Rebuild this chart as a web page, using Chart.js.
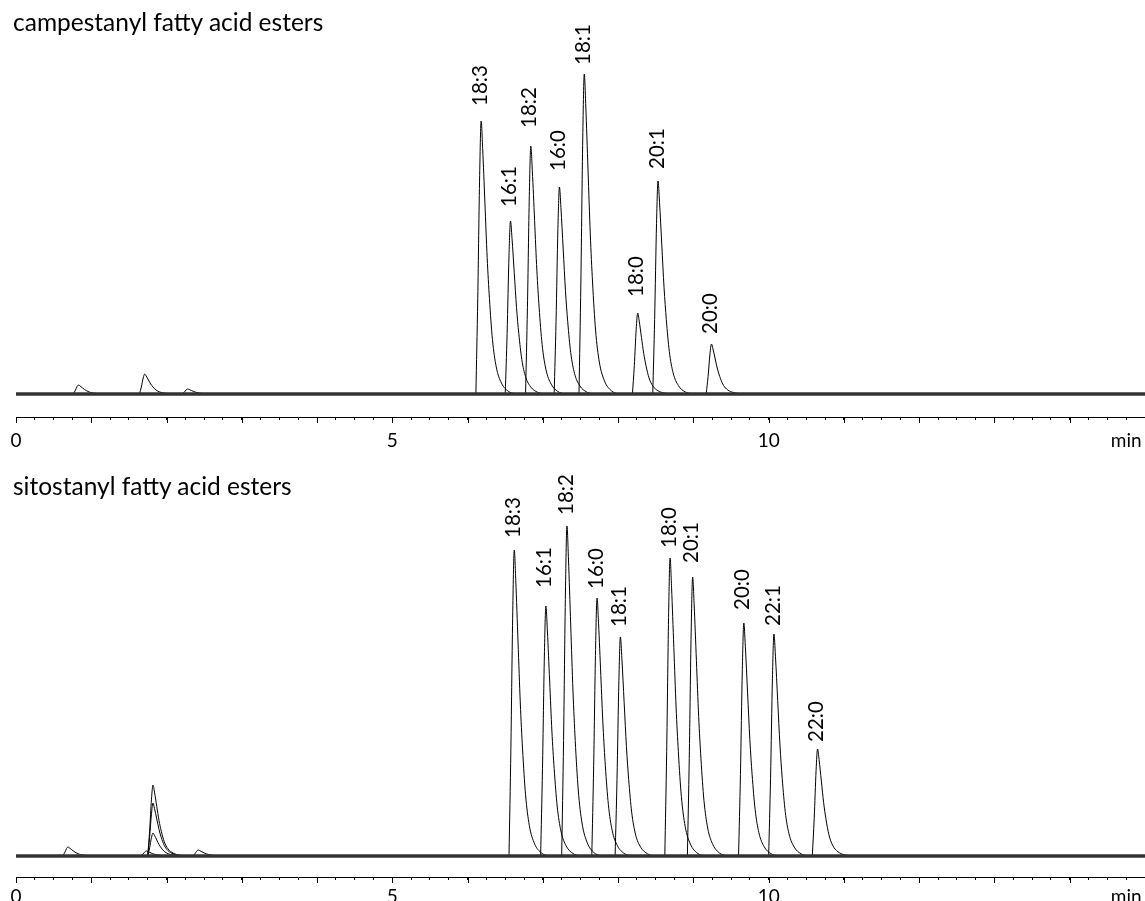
<!DOCTYPE html>
<html>
<head>
<meta charset="utf-8">
<title>Stanyl fatty acid esters</title>
<script src="https://cdn.jsdelivr.net/npm/chart.js@4.4.1/dist/chart.umd.min.js"></script>
<style>
  body { margin: 0; background: #fff; }
  #page { position: relative; width: 1145px; height: 901px; overflow: hidden; font-family: Lato, sans-serif; }
  .panel { position: absolute; left: 0; width: 1145px; }
  .panel-title { position: absolute; left: 13px; font-size: 24.5px; line-height: 24.5px; color: #000; white-space: nowrap; }
</style>
</head>
<body>
<div id="page">
  <div class="panel" style="top:0;height:450px"><canvas id="campChart"></canvas></div>
  <div class="panel" style="top:450px;height:451px"><canvas id="sitoChart"></canvas></div>
  <div class="panel-title" style="top:10px">campestanyl fatty acid esters</div>
  <div class="panel-title" style="top:474px">sitostanyl fatty acid esters</div>
</div>
<script>
// campestanyl esters: retention time (min) and peak height
const campLabels = ['18:3', '16:1', '18:2', '16:0', '18:1', '18:0', '20:1', '20:0'];
const campTimes = [6.18, 6.57, 6.84, 7.22, 7.55, 8.26, 8.53, 9.24];
const campHeights = [273, 173, 248, 207, 320, 81, 213, 50];

// sitostanyl esters
const sitoLabels = ['18:3', '16:1', '18:2', '16:0', '18:1', '18:0', '20:1', '20:0', '22:1', '22:0'];
const sitoTimes = [6.62, 7.04, 7.32, 7.72, 8.03, 8.69, 8.99, 9.67, 10.07, 10.65];
const sitoHeights = [306, 250, 330, 258, 219, 298, 279, 233, 222, 107];

// small early peaks (solvent front / impurities)
const campMinorTimes = [0.83, 1.71, 2.28];
const campMinorHeights = [9, 20, 5];
const sitoMinorTimes = [0.69, 1.73, 1.82, 1.82, 1.82, 2.42];
const sitoMinorHeights = [9, 5, 71, 53, 23, 6];

// tailing peak shape: offset from apex (min) and fraction of apex height
const shapeOffsets = [-0.07, -0.045, -0.02, 0, 0.02, 0.05, 0.08, 0.11, 0.15, 0.2, 0.27, 0.36, 0.45];
const shapeFractions = [0, 0.35, 0.8, 1, 0.9, 0.7, 0.5, 0.35, 0.2, 0.1, 0.04, 0.01, 0];

// x axis labels
const tickValues = [0, 5, 10, 14.75];
const tickTexts = ['0', '5', '10', 'min'];

function peakTrace(time, height) {
    return shapeOffsets.map((off, i) => ({ x: time + off, y: height * shapeFractions[i] }));
}

function buildDatasets(times, heights, minorTimes, minorHeights) {
    const sets = [{
        data: [{ x: 0, y: 0 }, { x: 15, y: 0 }],
        borderWidth: 3.5,
        borderColor: '#333'
    }];
    minorTimes.forEach((t, i) => sets.push({ data: peakTrace(t, minorHeights[i]) }));
    times.forEach((t, i) => sets.push({ data: peakTrace(t, heights[i]) }));
    return sets;
}

// rotated compound labels above each apex
const peakLabelPlugin = {
    id: 'peakLabels',
    afterDatasetsDraw(chart, args, opts) {
        const { ctx, scales: { x, y } } = chart;
        ctx.save();
        ctx.font = '20.5px Lato';
        ctx.fillStyle = '#000';
        ctx.textAlign = 'left';
        ctx.textBaseline = 'middle';
        opts.labels.forEach((label, i) => {
            const px = x.getPixelForValue(opts.times[i]) - 1;
            const py = y.getPixelForValue(opts.heights[i]) - opts.gaps[i];
            ctx.save();
            ctx.translate(px, py);
            ctx.rotate(-Math.PI / 2);
            ctx.fillText(label, 0, 0);
            ctx.restore();
        });
        ctx.restore();
    }
};

// longer tick marks on whole minutes
const minuteTickPlugin = {
    id: 'minuteTicks',
    afterDraw(chart) {
        const { ctx, scales: { x } } = chart;
        ctx.save();
        ctx.strokeStyle = '#000';
        ctx.lineWidth = 1;
        ctx.beginPath();
        for (let v = 0; v <= 15; v++) {
            const px = Math.round(x.getPixelForValue(v)) + 0.5;
            ctx.moveTo(px, x.top);
            ctx.lineTo(px, x.top + 6);
        }
        ctx.stroke();
        ctx.restore();
    }
};

function renderChromatogram(canvasId, cfg) {
    const ctx = document.getElementById(canvasId).getContext('2d');
    return new Chart(ctx, {
        type: 'line',
        data: { datasets: buildDatasets(cfg.times, cfg.heights, cfg.minorTimes, cfg.minorHeights) },
        options: {
            animation: false,
            responsive: true,
            maintainAspectRatio: false,
            layout: { padding: { left: 16, right: 0, top: 0, bottom: 0 } },
            elements: {
                line: { borderColor: '#000', borderWidth: 1, cubicInterpolationMode: 'monotone' },
                point: { radius: 0 }
            },
            plugins: {
                legend: { display: false },
                tooltip: { enabled: false },
                peakLabels: { labels: cfg.labels, times: cfg.times, heights: cfg.heights, gaps: cfg.labelGaps }
            },
            scales: {
                x: {
                    type: 'linear',
                    position: 'bottom',
                    min: 0,
                    max: 15,
                    afterFit: scale => {
                        scale.height = cfg.axisHeight;
                        scale.paddingLeft = 0;
                        scale.paddingRight = 0;
                    },
                    grid: { drawOnChartArea: false, drawTicks: true, tickLength: 3, color: '#000', lineWidth: 1 },
                    border: { display: true, color: '#000', width: 1 },
                    ticks: {
                        stepSize: 0.25,
                        autoSkip: false,
                        maxRotation: 0,
                        padding: cfg.tickPadding,
                        color: '#000',
                        font: { family: 'Lato', size: 19 },
                        callback: v => {
                            const k = tickValues.findIndex(t => Math.abs(t - v) < 1e-6);
                            return k >= 0 ? tickTexts[k] : '';
                        }
                    }
                },
                y: { display: false, min: cfg.yMin, max: cfg.yMax }
            }
        },
        plugins: [peakLabelPlugin, minuteTickPlugin]
    });
}

renderChromatogram('campChart', {
    labels: campLabels, times: campTimes, heights: campHeights,
    minorTimes: campMinorTimes, minorHeights: campMinorHeights,
    yMin: -23, yMax: 394, axisHeight: 33, tickPadding: 9,
    labelGaps: [15, 14, 18, 16, 9, 16, 12, 10]
});

renderChromatogram('sitoChart', {
    labels: sitoLabels, times: sitoTimes, heights: sitoHeights,
    minorTimes: sitoMinorTimes, minorHeights: sitoMinorHeights,
    yMin: -21, yMax: 406, axisHeight: 24, tickPadding: 5,
    labelGaps: [12, 18, 11, 9, 10, 10, 14, 13, 8, 7]
});
</script>
</body>
</html>
